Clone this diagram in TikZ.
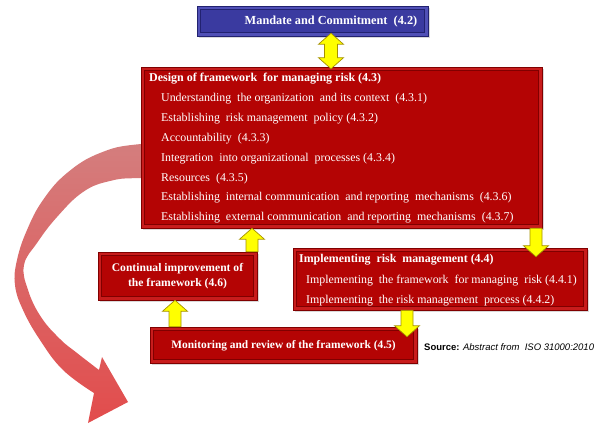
\documentclass[tikz,border=0pt]{standalone}
\usepackage{fontspec}
\setmainfont{Liberation Serif}
\setsansfont{Liberation Sans}
\usetikzlibrary{calc,shadows}

\definecolor{boxred}{RGB}{180,4,4}
\definecolor{boxredrim}{RGB}{200,28,28}
\definecolor{boxredline}{RGB}{128,0,0}
\definecolor{boxblue}{RGB}{58,58,160}
\definecolor{boxbluerim}{RGB}{80,80,182}
\definecolor{boxblueline}{RGB}{34,34,112}
\definecolor{arrowyellow}{RGB}{255,255,0}
\definecolor{arrowedge}{RGB}{165,145,0}
\definecolor{curvetop}{RGB}{212,126,126}
\definecolor{curvemid}{RGB}{240,156,156}
\definecolor{curvebot}{RGB}{226,76,76}

% thick yellow block arrow between two points on a vertical line
\newcommand\fatarrow[2]{%
  \filldraw[yarrow] let \p1=(#1), \p2=(#2), \n1={sign(\y2-\y1)*11} in
    (\x1-6pt,\y1) -- (\x1-6pt,\y2-\n1*1pt) -- (\x1-12.5pt,\y2-\n1*1pt) -- (\x1,\y2)
    -- (\x1+12.5pt,\y2-\n1*1pt) -- (\x1+6pt,\y2-\n1*1pt) -- (\x1+6pt,\y1) -- cycle;}
% the same with a head at both ends
\newcommand\fatdarrow[2]{%
  \filldraw[yarrow] let \p1=(#1), \p2=(#2), \n1={sign(\y2-\y1)*11} in
    (\x1,\y1) -- (\x1-12.5pt,\y1+\n1*1pt) -- (\x1-6.5pt,\y1+\n1*1pt) -- (\x1-6.5pt,\y2-\n1*1pt)
    -- (\x1-12.5pt,\y2-\n1*1pt) -- (\x1,\y2) -- (\x1+12.5pt,\y2-\n1*1pt) -- (\x1+6.5pt,\y2-\n1*1pt)
    -- (\x1+6.5pt,\y1+\n1*1pt) -- (\x1+12.5pt,\y1+\n1*1pt) -- cycle;}

\tikzset{
  yarrow/.style={fill=arrowyellow, draw=arrowedge, line width=0.7pt, line join=miter},
  redbox/.style={draw=boxredline, line width=0.5pt, fill=boxredrim, inner sep=0pt,
    drop shadow={opacity=0.3, shadow xshift=2pt, shadow yshift=-2pt},
    path picture={\fill[boxred, draw=boxredline, line width=0.8pt]
      ([shift={(3.5pt,3.5pt)}]path picture bounding box.south west) rectangle
      ([shift={(-3.5pt,-3.5pt)}]path picture bounding box.north east);}},
  bluebox/.style={draw=boxblueline, line width=0.5pt, fill=boxbluerim, inner sep=0pt,
    drop shadow={opacity=0.3, shadow xshift=2pt, shadow yshift=-2pt},
    path picture={\fill[boxblue, draw=boxblueline, line width=0.8pt]
      ([shift={(3.5pt,3.5pt)}]path picture bounding box.south west) rectangle
      ([shift={(-3.5pt,-3.5pt)}]path picture bounding box.north east);}},
  boxtitle/.style={text=white, inner sep=0pt, font=\fontsize{11}{13}\selectfont\bfseries},
  boxitem/.style={text=white, inner sep=0pt, font=\fontsize{11.9}{14}\selectfont},
}

\begin{document}
\begin{tikzpicture}[x=1pt,y=-1pt]
\useasboundingbox (0,0) rectangle (595,425);

% big curved feedback arrow behind the boxes
\shade[top color=curvetop, middle color=curvemid, bottom color=curvebot]
  plot[smooth, tension=0.7] coordinates {(220,141) (141,144) (100,153) (67,173) (43,200)
      (27,230) (17,260) (15,285) (23,310) (40,340) (63,370) (94,393)}
  -- (88,423) -- (128,402) -- (102,357)
  -- plot[smooth, tension=0.7] coordinates {(99,370) (77,353) (60,339) (41,317) (28,290)
      (24,265) (37,243) (57,217) (83,192) (110,181) (141,178) (220,178)}
  -- cycle;

% boxes
\node[bluebox, minimum width=231pt, minimum height=30pt] (mandate) at (312.5,21) {};
\node[redbox, minimum width=401pt, minimum height=161pt] (design) at (341.5,147.5) {};
\node[redbox, minimum width=294pt, minimum height=62pt] (impl) at (440,279) {};
\node[redbox, minimum width=159pt, minimum height=48pt] (cont) at (177.5,276) {};
\node[redbox, minimum width=267pt, minimum height=36pt] (monit) at (283.5,345) {};

% texts
\node[boxtitle, font=\fontsize{12.3}{14}\selectfont\bfseries] (tmandate) at (331,22) {Mandate and Commitment\ \ (4.2)};

\node[boxtitle, anchor=west, font=\fontsize{12}{14}\selectfont\bfseries] (tdesign) at (149,79) {Design of framework\ \ for managing risk (4.3)};
\node[boxitem, anchor=west] (d1) at (161,99) {Understanding\ \ the organization\ \ and its context\ \ (4.3.1)};
\node[boxitem, anchor=west] (d2) at (161,119) {Establishing\ \ risk management\ \ policy (4.3.2)};
\node[boxitem, anchor=west] (d3) at (161,139) {Accountability\ \ (4.3.3)};
\node[boxitem, anchor=west] (d4) at (161,159) {Integration\ \ into organizational\ \ processes (4.3.4)};
\node[boxitem, anchor=west] (d5) at (161,179) {Resources\ \ (4.3.5)};
\node[boxitem, anchor=west] (d6) at (161,198) {Establishing\ \ internal communication\ \ and reporting\ \ mechanisms\ \ (4.3.6)};
\node[boxitem, anchor=west] (d7) at (161,218) {Establishing\ \ external communication\ \ and reporting\ \ mechanisms\ \ (4.3.7)};

\node[boxtitle, anchor=west, font=\fontsize{11.9}{14}\selectfont\bfseries] (timpl) at (299,260) {Implementing\ \ risk\ \ management (4.4)};
\node[boxitem, anchor=west] (i1) at (306,281) {Implementing\ \ the framework\ \ for managing\ \ risk (4.4.1)};
\node[boxitem, anchor=west] (i2) at (306,301) {Implementing\ \ the risk management\ \ process (4.4.2)};

\node[boxtitle, align=center, font=\fontsize{11.6}{14.5}\selectfont\bfseries] (tcont) at (177.5,276) {Continual improvement of\\the framework (4.6)};
\node[boxtitle, font=\fontsize{11.4}{14}\selectfont\bfseries] (tmonit) at (283.5,346) {Monitoring and review of the framework (4.5)};

\node[anchor=west, inner sep=0pt, font=\sffamily\fontsize{9.5}{11}\selectfont] (source) at (424,347)
  {\textbf{Source:} \textit{Abstract from\ \ ISO 31000:2010}};

% yellow connectors
\coordinate (xa) at (331,0);
\coordinate (xb) at (536,0);
\coordinate (xc) at (407,0);
\coordinate (xd) at (252,0);
\coordinate (xe) at (175,0);
\fatdarrow{[yshift=3pt]mandate.south -| xa}{[yshift=-2pt]design.north -| xa}
\fatarrow{design.south -| xb}{[yshift=-9pt]impl.north -| xb}
\fatarrow{impl.south -| xc}{[yshift=-10pt]monit.north -| xc}
\fatarrow{cont.north -| xd}{design.south -| xd}
\fatarrow{monit.north -| xe}{cont.south -| xe}
\end{tikzpicture}
\end{document}
